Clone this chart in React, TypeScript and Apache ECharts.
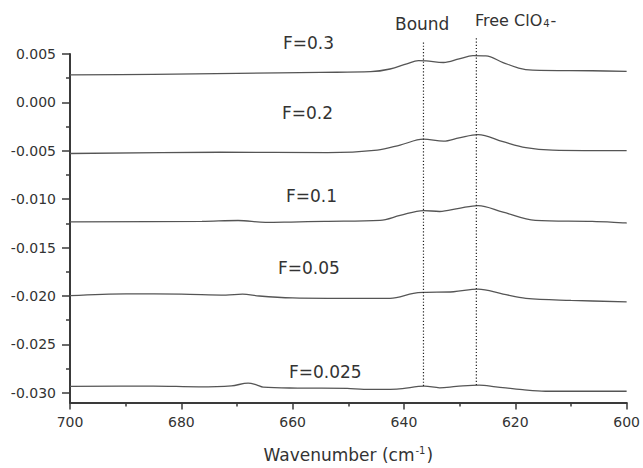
import React, { useEffect, useRef } from "react";
import * as echarts from "echarts";

// Wavenumber axis (cm^-1), drawn high to low
const wavenumberRange = [600, 700];
const wavenumberStep = 20;

// Absorbance axis
const absorbanceRange = [-0.031, 0.005];
const absorbanceTicks = [0.005, 0, -0.005, -0.01, -0.015, -0.02, -0.025, -0.03];
const absorbanceMinorTicks = [0.0025, -0.0025, -0.0075, -0.0125, -0.0175, -0.0225, -0.0275];

// Spectra, one per fraction F: [wavenumber, absorbance]
const specF0300: number[][] = [
  [700, 0.00285], [685, 0.0029], [670, 0.003], [655, 0.0031], [646, 0.00317],
  [642.5, 0.00345], [639.5, 0.00399], [637.4, 0.00432], [636, 0.00429],
  [632.9, 0.00412], [630.1, 0.00449], [627.6, 0.00483], [625.3, 0.0048],
  [622.2, 0.00412], [619.4, 0.00355], [616.9, 0.00334], [606.2, 0.00327], [600, 0.0032],
];
const specF0200: number[][] = [
  [700, -0.00528], [673, -0.00515], [653.7, -0.00518], [644.8, -0.00492],
  [640.7, -0.00441], [636.5, -0.0038], [632.9, -0.004], [630.1, -0.00366],
  [626.7, -0.00332], [622.2, -0.00406], [618.1, -0.00467], [613.3, -0.00492], [600, -0.00498],
];
const specF0100: number[][] = [
  [700, -0.01235], [676.3, -0.01229], [669.8, -0.0122], [664.9, -0.0124],
  [660.3, -0.01236], [654.3, -0.01229], [644.3, -0.01218], [640.7, -0.01168],
  [636.5, -0.01117], [633.6, -0.01127], [630.1, -0.01094], [626.7, -0.01066],
  [622.2, -0.01134], [616.4, -0.01218], [606.2, -0.01229], [600, -0.01246],
];
const specF0050: number[][] = [
  [700, -0.01997], [689.9, -0.01978], [680, -0.0198], [672, -0.0199], [669, -0.0198],
  [666, -0.02], [660, -0.0202], [653.7, -0.02024], [642.5, -0.02024], [638.3, -0.01973],
  [636.5, -0.01963], [631.1, -0.01956], [626.7, -0.01929], [622.2, -0.0198],
  [618.1, -0.02024], [610, -0.02045], [600, -0.0206],
];
const specF0025: number[][] = [
  [700, -0.02934], [685, -0.0293], [676.9, -0.02938], [671, -0.02928], [668, -0.029],
  [666.5, -0.02917], [665.3, -0.02941], [659.1, -0.02951], [650.2, -0.02954],
  [647.2, -0.02964], [641.3, -0.02961], [636.3, -0.02931], [633.6, -0.02948],
  [630.6, -0.02934], [626.5, -0.0292], [623.5, -0.02938], [618.7, -0.02968],
  [614.6, -0.02984], [600, -0.02984],
];
const spectra = [specF0300, specF0200, specF0100, specF0050, specF0025];
const spectrumLabels = ["F=0.3", "F=0.2", "F=0.1", "F=0.05", "F=0.025"];

// Band positions marked with dotted guides: [wavenumber, bottom, top]
const boundBand = [636.5, -0.0293, 0.0064];
const freeBand = [627, -0.0292, 0.0067];

const FONT = "DejaVu Sans";
const INK = "#333333";
const CURVE = "#555555";

// Label placement in pixels (left x, centre y)
const labelLayout: [number, number][] = [
  [283, 44],
  [282, 114],
  [286, 197],
  [278, 269],
  [289, 373],
];

export default function App() {
  const ref = useRef<HTMLDivElement>(null);

  useEffect(() => {
    if (!ref.current) return;
    const chart = echarts.init(ref.current, null, { renderer: "svg" });

    const curveSeries = spectra.map((data, i) => ({
      type: "line",
      name: spectrumLabels[i],
      data,
      showSymbol: false,
      smooth: 0.35,
      lineStyle: { color: CURVE, width: 1.3 },
      silent: true,
    }));

    const guideSeries = [boundBand, freeBand].map((b) => ({
      type: "line",
      data: [
        [b[0], b[1]],
        [b[0], b[2]],
      ],
      showSymbol: false,
      clip: false,
      silent: true,
      lineStyle: { color: "#222", width: 1.2, type: [1.2, 2] },
    }));

    const axisLineStyle = { color: "#3a3a3a", width: 2 };

    chart.setOption({
      animation: false,
      backgroundColor: "#ffffff",
      grid: { left: 70, right: 11, top: 54, bottom: 60 },
      xAxis: {
        type: "value",
        inverse: true,
        min: wavenumberRange[0],
        max: wavenumberRange[1],
        interval: wavenumberStep,
        axisLine: { show: true, onZero: false, lineStyle: axisLineStyle },
        axisTick: { show: true, length: 7, lineStyle: { color: "#3a3a3a", width: 1.5 } },
        minorTick: { show: true, splitNumber: 2, length: 4, lineStyle: { color: "#3a3a3a", width: 1.5 } },
        splitLine: { show: false },
        minorSplitLine: { show: false },
        axisLabel: { color: INK, fontFamily: FONT, fontSize: 14, margin: 12 },
        name: "Wavenumber (cm{sup|-1})",
        nameLocation: "middle",
        nameGap: 43,
        nameTextStyle: {
          color: INK,
          fontFamily: FONT,
          fontSize: 17,
          rich: {
            sup: { fontFamily: FONT, fontSize: 10, color: INK, verticalAlign: "top", padding: [0, 1, 8, 1] },
          },
        },
      },
      yAxis: [
        {
          type: "value",
          min: absorbanceRange[0],
          max: absorbanceRange[1],
          axisLine: { show: true, onZero: false, lineStyle: axisLineStyle },
          axisTick: {
            show: true,
            length: 8,
            customValues: absorbanceTicks,
            lineStyle: { color: "#3a3a3a", width: 1.5 },
          },
          splitLine: { show: false },
          axisLabel: {
            customValues: absorbanceTicks,
            color: INK,
            fontFamily: FONT,
            fontSize: 14,
            margin: 14,
            formatter: (v: number) => (Math.abs(v) < 1e-9 ? "0.000" : v.toFixed(3)),
          },
        },
        {
          type: "value",
          position: "left",
          min: absorbanceRange[0],
          max: absorbanceRange[1],
          axisLine: { show: false, onZero: false },
          axisLabel: { show: false },
          splitLine: { show: false },
          axisTick: {
            show: true,
            length: 4,
            customValues: absorbanceMinorTicks,
            lineStyle: { color: "#3a3a3a", width: 1.5 },
          },
        },
      ],
      series: [...curveSeries, ...guideSeries],
      graphic: [
        ...spectrumLabels.map((t, i) => ({
          type: "text",
          left: labelLayout[i][0],
          top: labelLayout[i][1] - 10,
          style: { text: t, fill: INK, font: `17px "${FONT}"` },
          silent: true,
        })),
        {
          type: "text",
          left: 395,
          top: 15,
          style: { text: "Bound", fill: INK, font: `17px "${FONT}"` },
        },
        {
          type: "text",
          left: 475,
          top: 12,
          style: {
            text: "Free ClO{sub|4}-",
            fill: INK,
            font: `16px "${FONT}"`,
            rich: {
              sub: { fontFamily: FONT, fontSize: 10, fill: INK, verticalAlign: "bottom", padding: [6, 1, 0, 1] },
            },
          },
        },
      ],
    });

    return () => chart.dispose();
  }, []);

  return <div ref={ref} style={{ width: 643, height: 468, position: "absolute", left: 0, top: 0 }} />;
}
